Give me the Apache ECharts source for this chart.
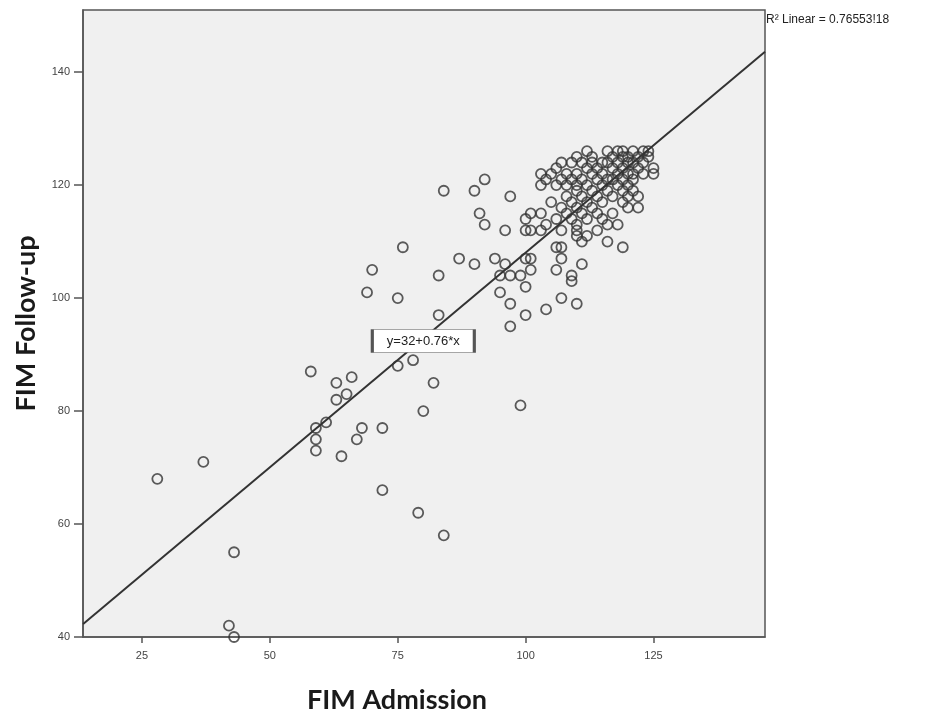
<!DOCTYPE html>
<html>
<head>
<meta charset="utf-8">
<script src="https://cdn.jsdelivr.net/npm/echarts@6/dist/echarts.min.js"></script>
<style>
html,body{margin:0;padding:0;background:#fff;}
#chart{width:937px;height:721px;}
</style>
</head>
<body>
<div id="chart"></div>
<script>
// FIM Admission (x) and FIM Follow-up (y) for each patient
const admission = [
  28,37,43,42,43,58,59,59,59,61,63,63,65,66,64,68,67,72,72,69,70,75,76,75,78,82,80,79,84,83,83,84,87,90,90,92,91,92,94,95,95,96,96,97,97,97,97,99,100,99,100,100,101,101,104,107,110,106,109,109,111,107,
  112,116,118,119,121,123,124,
  110,113,117,119,120,122,124,
  107,109,111,113,115,116,118,120,121,123,
  106,112,114,117,119,122,125,125,
  103,105,108,110,113,115,118,120,121,123,
  104,107,109,111,114,116,117,119,121,
  103,106,108,110,112,115,118,120,
  110,113,116,119,121,
  108,111,114,117,120,122,
  105,109,112,115,119,
  107,110,113,120,122,
  101,103,108,111,114,117,
  100,106,109,112,115,
  104,110,116,118,
  100,101,103,107,110,114,
  110,112,
  111,116,
  106,107,119
];
const followup = [
  68,71,55,42,40,87,77,75,73,78,85,82,83,86,72,77,75,77,66,101,105,100,109,88,89,85,80,62,58,97,104,119,107,106,119,121,115,113,107,104,101,106,112,118,104,99,95,81,97,104,102,107,107,105,98,100,99,105,104,103,106,107,
  126,126,126,126,126,126,126,
  125,125,125,125,125,125,125,
  124,124,124,124,124,124,124,124,124,124,
  123,123,123,123,123,123,123,122,
  122,122,122,122,122,122,122,122,122,122,
  121,121,121,121,121,121,121,121,121,
  120,120,120,120,120,120,120,120,
  119,119,119,119,119,
  118,118,118,118,118,118,
  117,117,117,117,117,
  116,116,116,116,116,
  115,115,115,115,115,115,
  114,114,114,114,114,
  113,113,113,113,
  112,112,112,112,112,112,
  111,111,
  110,110,
  109,109,109
];
// Fit line endpoints and its label
const fitX = [13.5, 146.8];
const fitY = [42.3, 143.6];
const fitLabel = 'y=32+0.76*x';
const fitLabelAt = [80, 92.4];
const r2Text = 'R\u00B2 Linear = 0.76553!18';
const xTicks = [25, 50, 75, 100, 125];
const yTicks = [40, 60, 80, 100, 120, 140];

const points = admission.map((x, i) => [x, followup[i]]);
const fitLine = fitX.map((x, i) => [x, fitY[i]]);

const axisColor = '#555';
const chart = echarts.init(document.getElementById('chart'));
chart.setOption({
  animation: false,
  backgroundColor: '#fff',
  title: {
    text: r2Text,
    left: 766, top: 14, padding: 0,
    textStyle: {fontFamily: 'Liberation Sans', fontSize: 12, fontWeight: 'normal', color: '#222'}
  },
  grid: {
    left: 83, right: 172, top: 10, bottom: 84,
    show: true, backgroundColor: '#f0f0f0', borderColor: axisColor, borderWidth: 1.5
  },
  xAxis: {
    type: 'value', min: 13.47, max: 146.8,
    name: 'FIM Admission', nameLocation: 'middle', nameGap: 50,
    nameTextStyle: {fontFamily: 'Lato', fontWeight: 'bold', fontSize: 27, color: '#1a1a1a', padding: [0, 54, 0, 0]},
    axisLine: {show: true, lineStyle: {color: axisColor, width: 1.5}},
    axisTick: {show: true, inside: false, length: 6, customValues: xTicks, lineStyle: {color: axisColor, width: 1.5}},
    axisLabel: {customValues: xTicks, fontFamily: 'Liberation Sans', fontSize: 11, color: '#444', margin: 13},
    splitLine: {show: false}
  },
  yAxis: {
    type: 'value', min: 40, max: 151,
    name: 'FIM Follow-up', nameLocation: 'middle', nameGap: 43,
    nameTextStyle: {fontFamily: 'Lato', fontWeight: 'bold', fontSize: 27, color: '#1a1a1a'},
    axisLine: {show: true, lineStyle: {color: axisColor, width: 1.5}},
    axisTick: {show: true, inside: false, length: 9, customValues: yTicks, lineStyle: {color: axisColor, width: 1.5}},
    axisLabel: {customValues: yTicks, fontFamily: 'Liberation Sans', fontSize: 11, color: '#444', margin: 13},
    splitLine: {show: false}
  },
  series: [
    {
      type: 'line',
      data: fitLine,
      symbol: 'none',
      lineStyle: {color: '#333', width: 2},
      z: 3,
      markPoint: {
        symbol: 'rect',
        symbolSize: [102, 23],
        itemStyle: {color: '#fff', borderColor: '#555', borderWidth: 1.5},
        label: {show: true, position: 'inside', formatter: fitLabel, fontFamily: 'Liberation Sans', fontSize: 13, color: '#222'},
        data: [{coord: fitLabelAt}]
      }
    },
    {
      type: 'scatter',
      data: points,
      symbol: 'circle',
      symbolSize: 10,
      clip: false,
      itemStyle: {color: 'rgba(0,0,0,0)', borderColor: '#333', borderWidth: 1.8},
      z: 2
    }
  ]
});
</script>
</body>
</html>
